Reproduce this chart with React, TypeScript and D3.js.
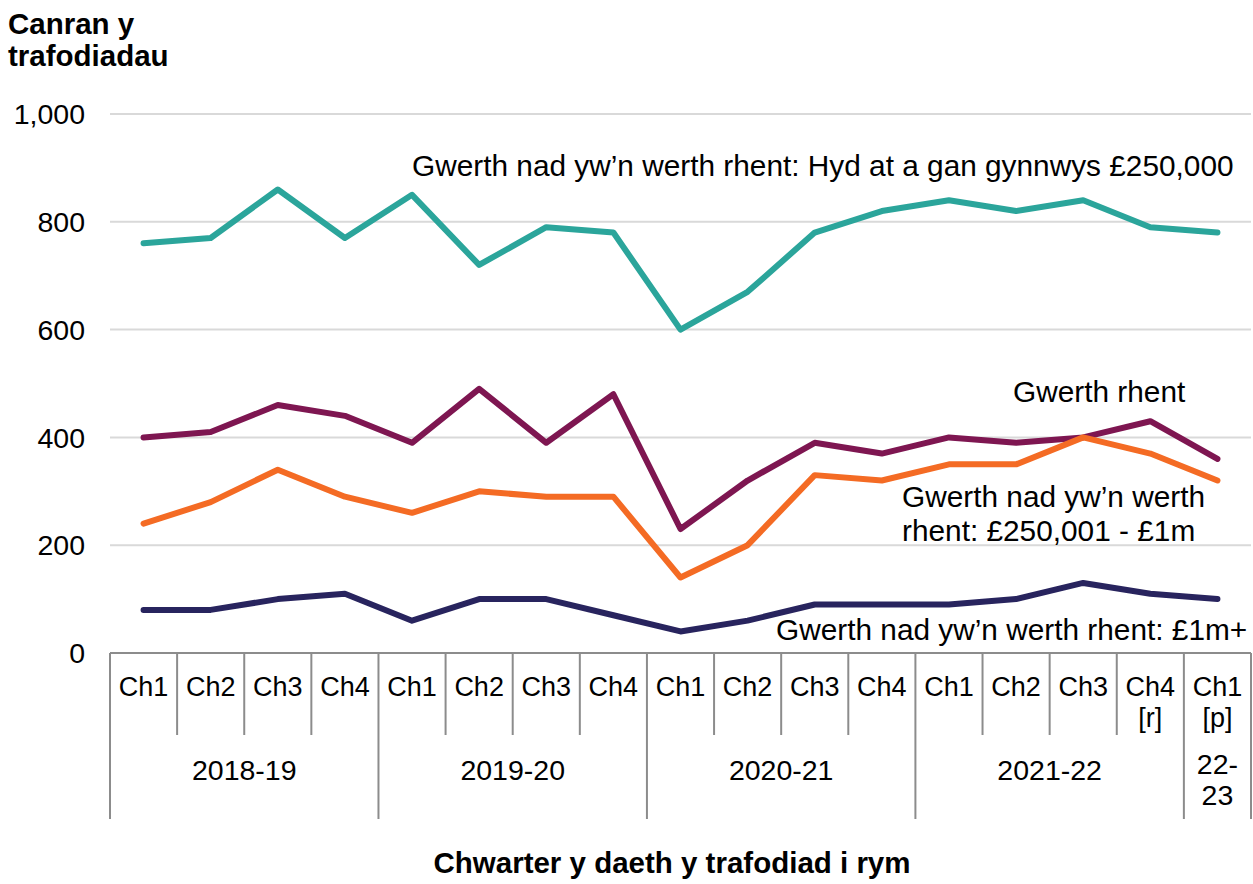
import React from "react";
import * as d3 from "d3";

const quarters: string[][] = [
  ["Ch1"], ["Ch2"], ["Ch3"], ["Ch4"],
  ["Ch1"], ["Ch2"], ["Ch3"], ["Ch4"],
  ["Ch1"], ["Ch2"], ["Ch3"], ["Ch4"],
  ["Ch1"], ["Ch2"], ["Ch3"], ["Ch4", "[r]"],
  ["Ch1", "[p]"],
];

const yearLabels: string[][] = [["2018-19"], ["2019-20"], ["2020-21"], ["2021-22"], ["22-", "23"]];
const yearSizes: number[] = [4, 4, 4, 4, 1];

const upTo250k: number[] = [760, 770, 860, 770, 850, 720, 790, 780, 600, 670, 780, 820, 840, 820, 840, 790, 780];
const rentValue: number[] = [400, 410, 460, 440, 390, 490, 390, 480, 230, 320, 390, 370, 400, 390, 400, 430, 360];
const from250kTo1m: number[] = [240, 280, 340, 290, 260, 300, 290, 290, 140, 200, 330, 320, 350, 350, 400, 370, 320];
const over1m: number[] = [80, 80, 100, 110, 60, 100, 100, 70, 40, 60, 90, 90, 90, 100, 130, 110, 100];

const yTicks: number[] = [0, 200, 400, 600, 800, 1000];

const seriesList = [
  { values: upTo250k, color: "#2BA59B", label: ["Gwerth nad yw\u2019n werth rhent: Hyd at a gan gynnwys £250,000"], lx: 412, ly: 176 },
  { values: rentValue, color: "#7E1651", label: ["Gwerth rhent"], lx: 1013, ly: 402 },
  { values: from250kTo1m, color: "#F46B24", label: ["Gwerth nad yw\u2019n werth", "rhent: £250,001 - £1m"], lx: 902, ly: 507 },
  { values: over1m, color: "#28245E", label: ["Gwerth nad yw\u2019n werth rhent: £1m+"], lx: 776, ly: 640 },
];

const FONT = "'Liberation Sans', Arial, Helvetica, sans-serif";

export default function App() {
  const W = 1253;
  const H = 884;
  const left = 110;
  const right = 1251;
  const y0 = 653;
  const yTop = 114;

  const x = d3
    .scaleBand<number>()
    .domain(d3.range(quarters.length))
    .range([left, right])
    .padding(0);
  const y = d3.scaleLinear().domain([0, 1000]).range([y0, yTop]);
  const cx = (i: number) => (x(i) as number) + x.bandwidth() / 2;

  const line = d3
    .line<number>()
    .x((_, i) => cx(i))
    .y((d) => y(d));

  const groupStarts: number[] = [];
  let acc = 0;
  yearSizes.forEach((n) => {
    groupStarts.push(acc);
    acc += n;
  });
  const groupBounds = new Set<number>([...groupStarts, quarters.length]);
  const bx = (i: number) => (i >= quarters.length ? right : (x(i) as number));

  return (
    <div style={{ position: "absolute", left: 0, top: 0 }}>
      <svg width={W} height={H} style={{ display: "block", background: "#fff" }}>
        <text x={8} y={34} fontFamily={FONT} fontWeight="bold" fontSize={29.5} fill="#000">
          Canran y
        </text>
        <text x={8} y={66} fontFamily={FONT} fontWeight="bold" fontSize={29.5} fill="#000">
          trafodiadau
        </text>

        {yTicks.map((t) => (
          <g key={t}>
            {t !== 0 && (
              <line x1={left} x2={right} y1={y(t)} y2={y(t)} stroke="#D9D9D9" strokeWidth={2} />
            )}
            <text
              x={85}
              y={y(t)}
              dy="0.36em"
              textAnchor="end"
              fontFamily={FONT}
              fontSize={28.5}
              fill="#000"
            >
              {d3.format(",")(t)}
            </text>
          </g>
        ))}

        <line x1={left} x2={right} y1={y0} y2={y0} stroke="#8C8C8C" strokeWidth={2} />

        {d3.range(quarters.length + 1).map((i) => (
          <line
            key={"sep" + i}
            x1={bx(i)}
            x2={bx(i)}
            y1={y0}
            y2={groupBounds.has(i) ? 819 : 735}
            stroke="#8C8C8C"
            strokeWidth={2}
          />
        ))}

        {quarters.map((q, i) =>
          q.map((s, k) => (
            <text
              key={"q" + i + "-" + k}
              x={cx(i)}
              y={696 + k * 31}
              textAnchor="middle"
              fontFamily={FONT}
              fontSize={27}
              fill="#000"
            >
              {s}
            </text>
          ))
        )}

        {yearLabels.map((lab, g) => {
          const start = groupStarts[g];
          const end = start + yearSizes[g];
          const mid = (bx(start) + bx(end)) / 2;
          const base = lab.length === 1 ? 780 : 774;
          return lab.map((s, k) => (
            <text
              key={"y" + g + "-" + k}
              x={mid}
              y={base + k * 31}
              textAnchor="middle"
              fontFamily={FONT}
              fontSize={28.5}
              fill="#000"
            >
              {s}
            </text>
          ));
        })}

        {seriesList.map((s, i) => (
          <path
            key={"s" + i}
            d={line(s.values) || ""}
            fill="none"
            stroke={s.color}
            strokeWidth={6}
            strokeLinejoin="round"
            strokeLinecap="round"
          />
        ))}

        {seriesList.map((s, i) =>
          s.label.map((t, k) => (
            <text
              key={"l" + i + "-" + k}
              x={s.lx}
              y={s.ly + k * 34}
              fontFamily={FONT}
              fontSize={29.8}
              fill="#000"
            >
              {t}
            </text>
          ))
        )}

        <text
          x={672}
          y={873}
          textAnchor="middle"
          fontFamily={FONT}
          fontWeight="bold"
          fontSize={29.5}
          fill="#000"
        >
          Chwarter y daeth y trafodiad i rym
        </text>
      </svg>
    </div>
  );
}
